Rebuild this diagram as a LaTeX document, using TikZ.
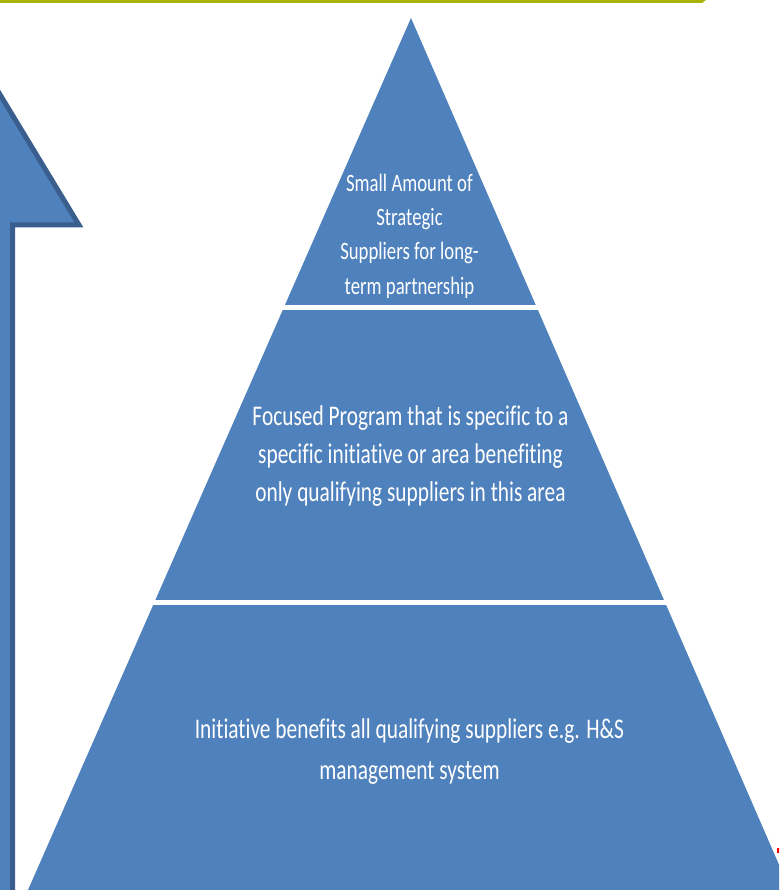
\documentclass[tikz,border=0pt]{standalone}
\usepackage{fontspec}
\newfontfamily\pyrfont[FakeStretch=0.75,Ligatures=NoCommon]{Carlito}
\definecolor{pyrblue}{HTML}{4F81BD}
\definecolor{arrowedge}{HTML}{3A5F8E}
\definecolor{ruleolive}{HTML}{A9B40A}
\tikzset{
  layer/.style={fill=pyrblue},
  gap/.style={fill=white},
  caption/.style 2 args={text=white, align=center, inner sep=0pt, anchor=base,
    font=\pyrfont\fontsize{#1}{#2}\selectfont},
  riser/.style={fill=pyrblue, draw=arrowedge, line width=5pt, line join=miter},
}
\begin{document}
\begin{tikzpicture}[x=1pt,y=-1pt]
\useasboundingbox (0,0) rectangle (779,890);
\begin{scope}
\clip (0,0) rectangle (779,890);
% olive rule along the top edge
\fill[ruleolive] (0,0) -- (706,0) -- (702,3) -- (0,3) -- cycle;
% upward arrow on the left, mostly outside the frame
\draw[riser] (12.5,900) -- (12.5,225) -- (79,225) -- (-30,45) -- (-139,225)
  -- (-73,225) -- (-73,900) -- cycle;
% pyramid, cut into three layers
\fill[layer] (411,18) -- (790,890) -- (28,890) -- cycle;
\fill[gap] (100,305) rectangle (700,310);
\fill[gap] (100,600) rectangle (700,605);
% tiny red fragment at the right edge
\fill[red] (777,848) rectangle (780,853);
\end{scope}
% anchor=base sits on the last line's baseline
\node[caption={25}{34}] (top) at (409.5,294)
  {Small Amount of\\Strategic\\Suppliers for long-\\term partnership};
\node[caption={28.5}{37.7}] (mid) at (410.5,501)
  {Focused Program that is specific to a\\specific initiative or area benefiting\\only qualifying suppliers in this area};
\node[caption={28.5}{41}] (base) at (409.5,779)
  {Initiative benefits all qualifying suppliers e.g. H\&S\\management system};
\end{tikzpicture}
\end{document}
